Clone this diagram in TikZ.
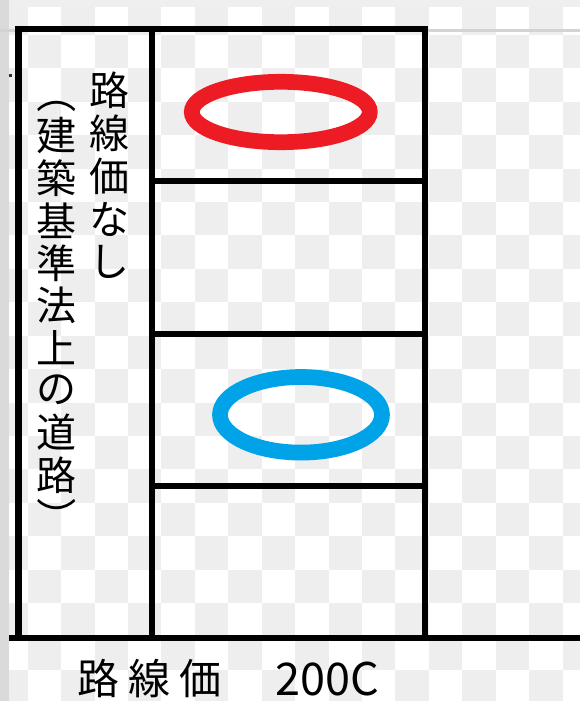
\documentclass[tikz,border=0pt]{standalone}
\usepackage{fontspec}
\newfontfamily\jp{Noto Sans CJK JP}
\definecolor{paintred}{HTML}{ED1C24}
\definecolor{paintblue}{HTML}{00A2E8}
\definecolor{chk}{HTML}{EEEEEE}
\definecolor{topstrip}{HTML}{EFEFEF}
\definecolor{leftstrip}{HTML}{DADADA}
\definecolor{guide}{HTML}{D3D3D3}
\begin{document}
\begin{tikzpicture}[x=1pt,y=-1pt,
  frame/.style={line width=6.3pt},
  vch/.style={font=\jp\fontsize{40}{40}\selectfont, inner sep=0pt},
  bch/.style={font=\jp\fontsize{42}{42}\selectfont, inner sep=0pt},
  ring/.style={line width=15.7pt}]
\useasboundingbox (0,0) rectangle (580,701);
% background (transparency checkerboard)
\begin{scope}
\clip (0,0) rectangle (580,701);
\fill[white] (0,0) rectangle (580,701);
\foreach \i in {0,...,18}{
  \foreach \j in {0,...,21}{
    \pgfmathtruncatemacro\myparity{mod(\i+\j,2)}
    \ifnum\myparity=0
      \fill[chk] ({-5.7+33.43*\i},{1.4+33.43*\j}) rectangle ++(33.43,33.43);
    \fi
  }
}
\end{scope}
\fill[topstrip] (0,0) rectangle (580,6.7);
\fill[leftstrip] (0,0) rectangle (9,701);
\draw[guide, line width=2.4pt] (0,30.5) -- (580,30.5);
\fill[black!80] (9,74) rectangle (12,77);
% frame
\coordinate (tl) at (18.5,29);
\coordinate (br) at (425,638.3);
\coordinate (mt) at (152,29);
\coordinate (mb) at (152,638.3);
\coordinate (gl) at (9,638.3);
\coordinate (gr) at (580,638.3);
\coordinate (d1l) at (152,181);    \coordinate (d1r) at (425,181);
\coordinate (d2l) at (152,333.7);  \coordinate (d2r) at (425,333.7);
\coordinate (d3l) at (152,485.7);  \coordinate (d3r) at (425,485.7);
\draw[frame] (tl) rectangle (br);
\draw[frame] (gl) -- (gr);
\draw[frame] (mt) -- (mb);
\draw[frame] (d1l) -- (d1r);
\draw[frame] (d2l) -- (d2r);
\draw[frame] (d3l) -- (d3r);
% rings
\draw[paintred, ring] (280.8,112) ellipse [x radius=89pt, y radius=30.2pt];
\draw[paintblue, ring] (301,414.8) ellipse [x radius=81pt, y radius=37.8pt];
% vertical text, column 1
\node[vch] (a1) at (109,90) {路};
\node[vch] (a2) at (109,133) {線};
\node[vch] (a3) at (109,176) {価};
\node[vch] (a4) at (109,219) {な};
\node[vch] (a5) at (109,262) {し};
% vertical text, column 2
\node[vch, rotate=-90] (b0) at (56.5,93.3) {（};
\node[vch] (b1) at (56.5,135.7) {建};
\node[vch] (b2) at (56.5,178.1) {築};
\node[vch] (b3) at (56.5,220.5) {基};
\node[vch] (b4) at (56.5,262.9) {準};
\node[vch] (b5) at (56.5,305.3) {法};
\node[vch] (b6) at (56.5,347.7) {上};
\node[vch] (b7) at (56.5,390.1) {の};
\node[vch] (b8) at (56.5,432.5) {道};
\node[vch] (b9) at (56.5,474.9) {路};
\node[vch, rotate=-90] (b10) at (56.5,517.3) {）};
% bottom label
\node[bch] (c1) at (98.3,678.5) {路};
\node[bch] (c2) at (149,678.5) {線};
\node[bch] (c3) at (200,678.5) {価};
\node[font=\jp\fontsize{45}{45}\selectfont, inner sep=0pt] (c4) at (327.5,678.5) {200C};
\end{tikzpicture}
\end{document}
